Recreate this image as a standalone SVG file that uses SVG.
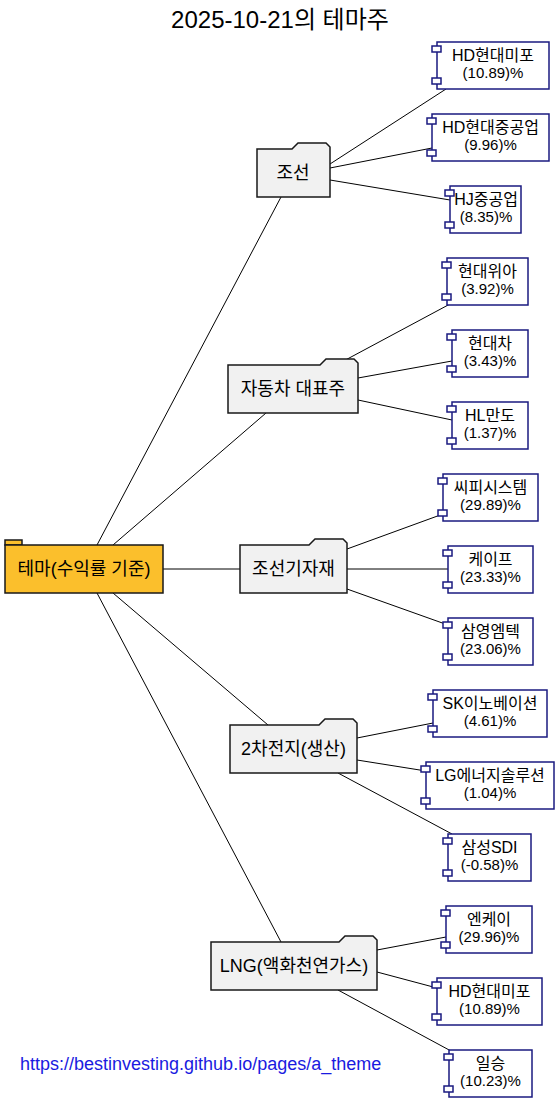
<svg xmlns="http://www.w3.org/2000/svg" width="560" height="1103" viewBox="0 0 560 1103">
<style>
text{font-family:"Liberation Sans","Noto Sans CJK KR",sans-serif;fill:#000;text-anchor:middle}
.title{font-size:24px}
.cat{fill:#F1F1F1;stroke:#181818;stroke-width:1.5}
.root{fill:#FBBF2C;stroke:#181818;stroke-width:1.5}
.ct{font-size:18px}
.rt{font-size:18px}
.leaf{fill:#fff;stroke:#1a1a80;stroke-width:1.5}
.nm{font-size:16px}
.pc{font-size:15px}
.edge line{stroke:#000;stroke-width:1}
.url{font-size:18px;fill:#1a1ae0;text-anchor:start}
</style>
<defs>
<g id="pins"><rect x="-5" y="4" width="9" height="6" class="leaf"/><rect x="-5" y="36" width="9" height="6" class="leaf"/></g>
</defs>
<rect width="560" height="1103" fill="#fff"/>
<text class="title" x="280" y="28">2025-10-21의 테마주</text>
<g class="edge" id="connectors">
<line x1="97" y1="545" x2="281" y2="197"/>
<line x1="113" y1="545" x2="266" y2="413"/>
<line x1="163" y1="569" x2="240" y2="569"/>
<line x1="113" y1="593" x2="268" y2="725"/>
<line x1="97" y1="593" x2="281" y2="942"/>
<line x1="330" y1="164" x2="446" y2="89"/>
<line x1="330" y1="168" x2="432" y2="148"/>
<line x1="330" y1="180" x2="450" y2="200"/>
<line x1="338" y1="364" x2="450" y2="304"/>
<line x1="358" y1="378" x2="452" y2="361"/>
<line x1="358" y1="400" x2="452" y2="420"/>
<line x1="347" y1="549" x2="443" y2="514"/>
<line x1="347" y1="569" x2="448" y2="569"/>
<line x1="347" y1="589" x2="448" y2="625"/>
<line x1="357" y1="738" x2="433" y2="723"/>
<line x1="357" y1="760" x2="426" y2="771"/>
<line x1="338" y1="773" x2="452" y2="834"/>
<line x1="377" y1="950" x2="446" y2="937"/>
<line x1="377" y1="972" x2="437" y2="988"/>
<line x1="338" y1="990" x2="451" y2="1051"/>
</g>
<g id="root">
<rect x="5" y="540" width="17" height="5" class="root"/>
<rect x="5" y="545" width="158" height="48" class="root"/>
<text class="rt" x="84" y="575">테마(수익률 기준)</text>
</g>
<g id="cat1">
<path class="cat" d="M257,149 H292 L298,143 H326 L330,147 V197 H257 Z"/>
<text class="ct" x="293" y="179">조선</text>
</g>
<g id="cat2">
<path class="cat" d="M228,365 H320 L326,359 H354 L358,363 V413 H228 Z"/>
<text class="ct" x="293" y="395">자동차 대표주</text>
</g>
<g id="cat3">
<path class="cat" d="M240,545 H309 L315,539 H343 L347,543 V593 H240 Z"/>
<text class="ct" x="293.5" y="575">조선기자재</text>
</g>
<g id="cat4">
<path class="cat" d="M230,725 H319 L325,719 H353 L357,723 V773 H230 Z"/>
<text class="ct" x="293.5" y="755">2차전지(생산)</text>
</g>
<g id="cat5">
<path class="cat" d="M211,942 H339 L345,936 H373 L377,940 V990 H211 Z"/>
<text class="ct" x="294" y="972">LNG(액화천연가스)</text>
</g>
<g id="leaf1"><rect class="leaf" x="437" y="42" width="112" height="47"/><use href="#pins" x="437" y="42"/><text class="nm" x="493" y="61">HD현대미포</text><text class="pc" x="493" y="78">(10.89)%</text></g>
<g id="leaf2"><rect class="leaf" x="432" y="114" width="117" height="47"/><use href="#pins" x="432" y="114"/><text class="nm" x="490.5" y="133">HD현대중공업</text><text class="pc" x="490.5" y="150">(9.96)%</text></g>
<g id="leaf3"><rect class="leaf" x="450" y="186" width="71" height="47"/><use href="#pins" x="450" y="186"/><text class="nm" x="486" y="205">HJ중공업</text><text class="pc" x="486" y="222">(8.35)%</text></g>
<g id="leaf4"><rect class="leaf" x="447" y="258" width="81" height="47"/><use href="#pins" x="447" y="258"/><text class="nm" x="487.5" y="277">현대위아</text><text class="pc" x="487.5" y="294">(3.92)%</text></g>
<g id="leaf5"><rect class="leaf" x="452" y="330" width="76" height="47"/><use href="#pins" x="452" y="330"/><text class="nm" x="490" y="349">현대차</text><text class="pc" x="490" y="366">(3.43)%</text></g>
<g id="leaf6"><rect class="leaf" x="452" y="402" width="76" height="47"/><use href="#pins" x="452" y="402"/><text class="nm" x="490" y="421">HL만도</text><text class="pc" x="490" y="438">(1.37)%</text></g>
<g id="leaf7"><rect class="leaf" x="443" y="474" width="95" height="47"/><use href="#pins" x="443" y="474"/><text class="nm" x="490.5" y="493">씨피시스템</text><text class="pc" x="490.5" y="510">(29.89)%</text></g>
<g id="leaf8"><rect class="leaf" x="448" y="546" width="85" height="47"/><use href="#pins" x="448" y="546"/><text class="nm" x="490.5" y="565">케이프</text><text class="pc" x="490.5" y="582">(23.33)%</text></g>
<g id="leaf9"><rect class="leaf" x="448" y="618" width="85" height="47"/><use href="#pins" x="448" y="618"/><text class="nm" x="490.5" y="637">삼영엠텍</text><text class="pc" x="490.5" y="654">(23.06)%</text></g>
<g id="leaf10"><rect class="leaf" x="433" y="690" width="114" height="47"/><use href="#pins" x="433" y="690"/><text class="nm" x="490" y="709">SK이노베이션</text><text class="pc" x="490" y="726">(4.61)%</text></g>
<g id="leaf11"><rect class="leaf" x="426" y="762" width="128" height="47"/><use href="#pins" x="426" y="762"/><text class="nm" x="490" y="781">LG에너지솔루션</text><text class="pc" x="490" y="798">(1.04)%</text></g>
<g id="leaf12"><rect class="leaf" x="448" y="834" width="83" height="47"/><use href="#pins" x="448" y="834"/><text class="nm" x="489.5" y="853">삼성SDI</text><text class="pc" x="489.5" y="870">(-0.58)%</text></g>
<g id="leaf13"><rect class="leaf" x="446" y="906" width="86" height="47"/><use href="#pins" x="446" y="906"/><text class="nm" x="489" y="925">엔케이</text><text class="pc" x="489" y="942">(29.96)%</text></g>
<g id="leaf14"><rect class="leaf" x="437" y="978" width="105" height="47"/><use href="#pins" x="437" y="978"/><text class="nm" x="489.5" y="997">HD현대미포</text><text class="pc" x="489.5" y="1014">(10.89)%</text></g>
<g id="leaf15"><rect class="leaf" x="449" y="1050" width="83" height="47"/><use href="#pins" x="449" y="1050"/><text class="nm" x="490.5" y="1069">일승</text><text class="pc" x="490.5" y="1086">(10.23)%</text></g>
<text class="url" x="20" y="1070">https://bestinvesting.github.io/pages/a_theme</text>
</svg>
